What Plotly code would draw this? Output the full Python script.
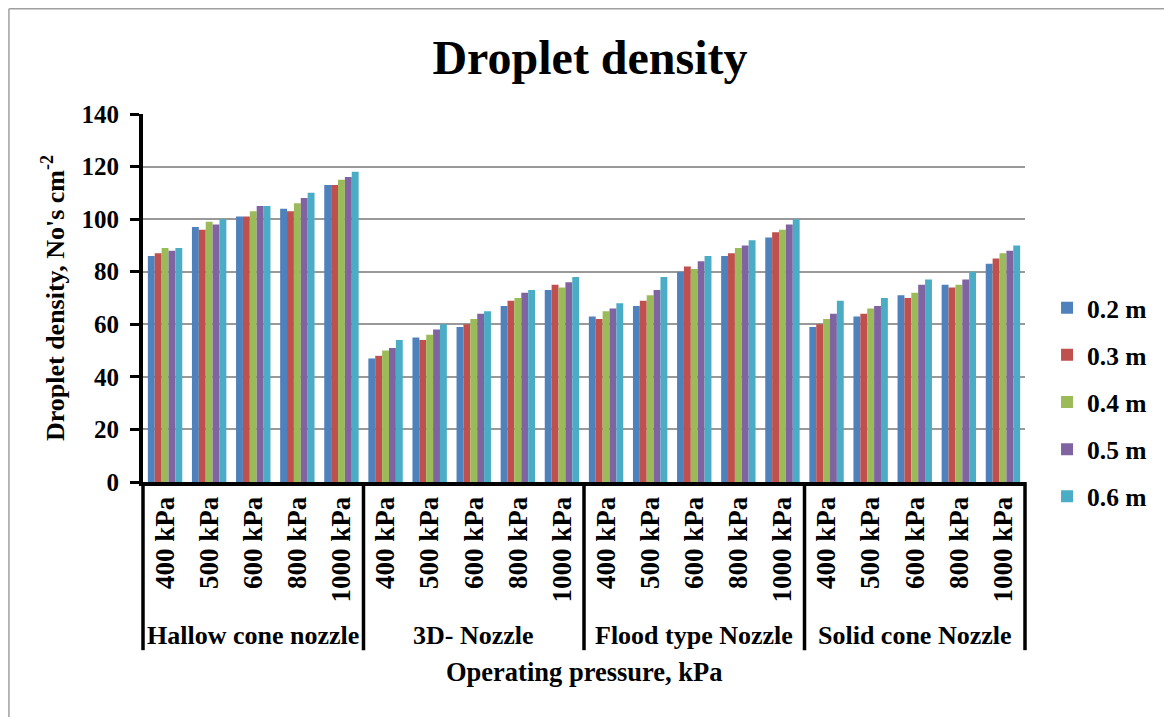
import plotly.graph_objects as go

groups = ["Hallow cone nozzle", "3D- Nozzle", "Flood type Nozzle", "Solid cone Nozzle"]
pressures = ["400 kPa", "500 kPa", "600 kPa", "800 kPa", "1000 kPa"]
series_names = ["0.2 m", "0.3 m", "0.4 m", "0.5 m", "0.6 m"]
colors = ["#4F81BD", "#C0504D", "#9BBB59", "#8064A2", "#4BACC6"]

# values per series, ordered group by group, pressure by pressure
s_02 = [86, 97, 101, 104, 113,  47, 55, 59, 67, 73,  63, 67, 80, 86, 93,  59, 63, 71, 75, 83]
s_03 = [87, 96, 101, 103, 113,  48, 54, 60, 69, 75,  62, 69, 82, 87, 95,  60, 64, 70, 74, 85]
s_04 = [89, 99, 103, 106, 115,  50, 56, 62, 70, 74,  65, 71, 81, 89, 96,  62, 66, 72, 75, 87]
s_05 = [88, 98, 105, 108, 116,  51, 58, 64, 72, 76,  66, 73, 84, 90, 98,  64, 67, 75, 77, 88]
s_06 = [89, 100, 105, 110, 118, 54, 60, 65, 73, 78,  68, 78, 86, 92, 100, 69, 70, 77, 80, 90]
series_values = [s_02, s_03, s_04, s_05, s_06]

y_ticks = [0, 20, 40, 60, 80, 100, 120, 140]

FONT = "Liberation Serif"
n_cat = len(groups) * len(pressures)
x_idx = list(range(n_cat))
tick_text = [p for g in groups for p in pressures]

fig = go.Figure()
for name, vals, col in zip(series_names, series_values, colors):
    fig.add_trace(go.Bar(
        x=x_idx, y=vals, name=name, legendgroup=name,
        marker=dict(color=col, line=dict(width=0)),
    ))

shapes = []
annotations = []
npg = len(pressures)
for gi in range(len(groups) + 1):
    xp = (gi * npg) / n_cat
    shapes.append(dict(type="line", xref="paper", yref="paper",
                       x0=xp, x1=xp, y0=0, y1=-0.457,
                       line=dict(color="black", width=3.5)))
for gi, g in enumerate(groups):
    annotations.append(dict(text=g, xref="x", yref="paper",
                            x=gi * npg + (npg - 1) / 2, y=-0.416,
                            showarrow=False, yanchor="middle",
                            font=dict(family=FONT, size=26, color="black", weight="bold")))
annotations.append(dict(text="Operating pressure, kPa", xref="paper", yref="paper",
                        x=0.5, y=-0.516, showarrow=False, yanchor="middle",
                        font=dict(family=FONT, size=26.5, color="black", weight="bold")))

# outer border
bl, br, bt = -0.152, 1.161, 1.286
shapes += [
    dict(type="line", xref="paper", yref="paper", x0=bl, x1=bl, y0=bt, y1=-0.8,
         line=dict(color="#a0a0a0", width=1.5)),
    dict(type="line", xref="paper", yref="paper", x0=bl, x1=br, y0=bt, y1=bt,
         line=dict(color="#a0a0a0", width=1.5)),
    dict(type="line", xref="paper", yref="paper", x0=br, x1=br, y0=bt, y1=-0.8,
         line=dict(color="#a0a0a0", width=1.5)),
]

fig.update_layout(
    width=1164, height=709,
    margin=dict(l=135, r=147, t=106, b=235),
    paper_bgcolor="white", plot_bgcolor="white",
    font=dict(family=FONT, color="black", size=25, weight="bold"),
    title=dict(text="Droplet density", x=0.5, xanchor="center", y=0.931, yanchor="middle",
               font=dict(family=FONT, size=48, color="black", weight="bold")),
    barmode="group", bargap=0.22, bargroupgap=0.0,
    showlegend=True,
    legend=dict(x=1.025, xanchor="left", y=0.217, yanchor="middle",
                font=dict(family=FONT, size=25.5, color="black", weight="bold"),
                tracegroupgap=11, itemwidth=30, bgcolor="rgba(0,0,0,0)"),
    xaxis=dict(tickmode="array", tickvals=x_idx, ticktext=tick_text, tickangle=-90,
               range=[-0.5, n_cat - 0.5], showgrid=False, zeroline=False,
               showline=True, linecolor="black", linewidth=4, ticks="",
               tickfont=dict(family=FONT, size=27, color="black", weight="bold")),
    yaxis=dict(range=[0, 140], tickmode="array", tickvals=y_ticks,
               showgrid=True, gridcolor="#999999", gridwidth=1.5, zeroline=False,
               showline=True, linecolor="black", linewidth=4,
               ticks="outside", ticklen=9, tickwidth=3, tickcolor="black",
               ticklabelstandoff=6,
               tickfont=dict(family=FONT, size=25, color="black", weight="bold"),
               title=dict(text="Droplet density, No's cm<sup>-2</sup>", standoff=10,
                          font=dict(family=FONT, size=26, color="black", weight="bold"))),
    shapes=shapes, annotations=annotations,
)

fig.write_html("out.html")
